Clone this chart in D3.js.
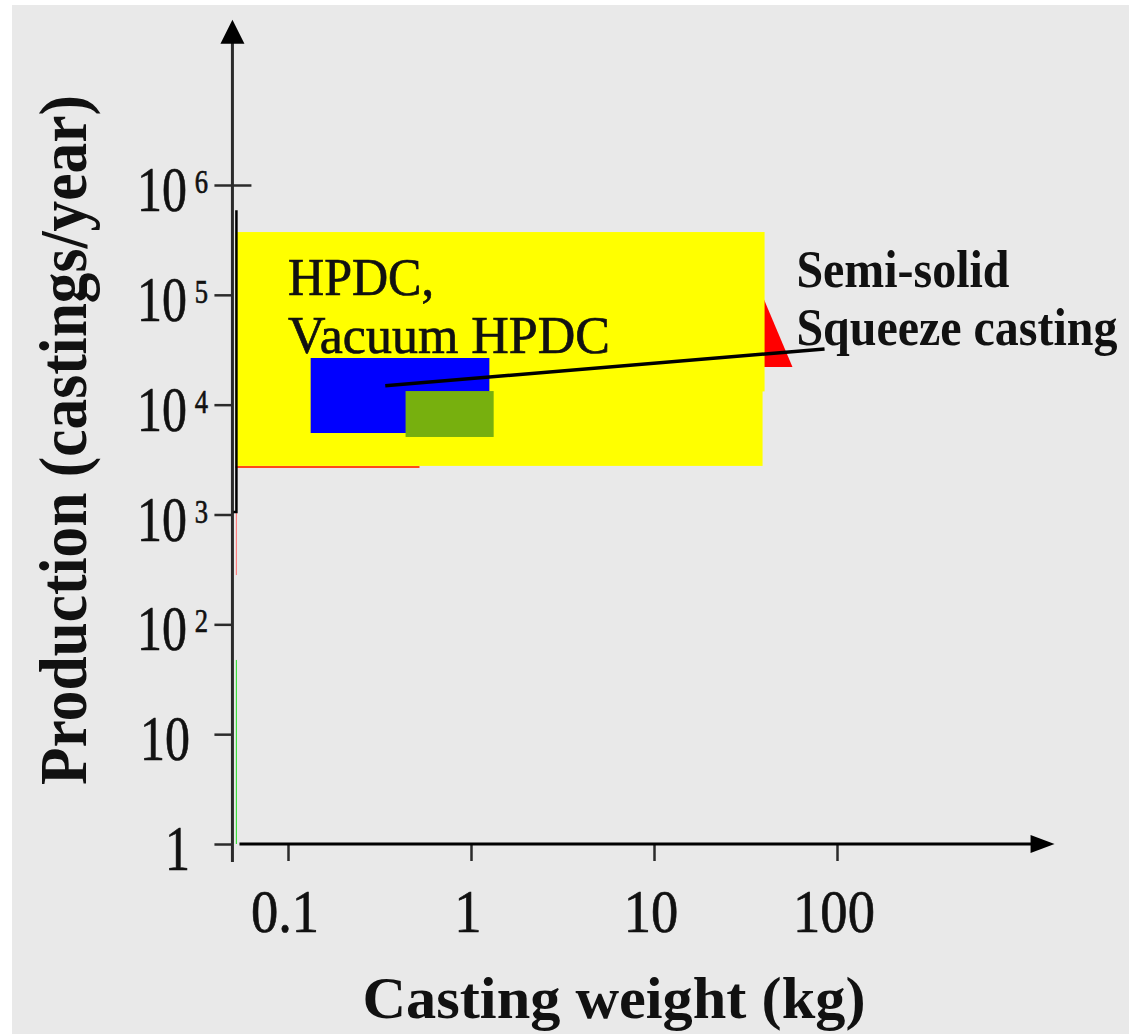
<!DOCTYPE html>
<html>
<head>
<meta charset="utf-8">
<script src="https://cdn.jsdelivr.net/npm/d3@7"></script>
<style>
  body { margin: 0; background: #ffffff; }
  svg { display: block; }
  text { font-family: "Liberation Serif", "DejaVu Serif", serif; fill: #111; }
  .heavy { stroke: #111; stroke-width: 0.7px; }
</style>
</head>
<body>
<div id="chart"></div>
<script>
// ---- data ----
const xTicks = [0.1, 1, 10, 100]
const xTickLabels = ['0.1', '1', '10', '100']
const yTicks = [1, 10, 1e2, 1e3, 1e4, 1e5, 1e6]
const yTickBase = ['1', '10', '10', '10', '10', '10', '10']
const yTickExp = ['', '', '2', '3', '4', '5', '6']

// process regions (casting weight kg x production castings/year)
const regionNames = ['HPDC (upper)', 'HPDC (lower)', 'Vacuum HPDC', 'Semi-solid']
const weightMin = [0.0516, 0.0516, 0.133, 0.439]
const weightMax = [40.2, 39.2, 1.26, 1.33]
const prodMin = [13200, 2770, 5520, 5080]
const prodMax = [373000, 13400, 26600, 13300]
const regionColors = ['#ffff00', '#ffff00', '#0000ff', '#77b00e']

// squeeze casting triangle (partly hidden behind HPDC)
const squeezeWeight = [35.4, 57.1, 35.4]
const squeezeProd = [145500, 22000, 22000]

// leader line from the label to the region
const leaderWeight = [0.34, 85.5]
const leaderProd = [14900, 32100]

// thin edge lines left over in the picture
const borderWeight = [0.0516, 0.0516, 0.0497]
const borderProd = [590000, 1054, 1054]
const redEdgeWeight = [0.0516, 0.523]
const redEdgeProd = [2709, 2709]
const redAxisProd = [1054, 281]
const greenAxisProd = [47.4, 1]

// axis extents
const xOrigin = 0.0497, xStart = 0.0543, xEnd = 1545
const yBottom = 0.686, yEnd = 3.2e7

const width = 1129, height = 1034

const svg = d3.select('#chart').append('svg')
    .attr('width', width)
    .attr('height', height)

svg.append('rect')
    .attr('x', 12).attr('y', 5)
    .attr('width', width - 12).attr('height', height - 5)
    .attr('fill', '#e9e9e9')

const x = d3.scaleLog().domain([0.1, 100]).range([288, 837])
const y = d3.scaleLog().domain([1, 1e6]).range([844, 185])

const axisColor = '#2b2b2b'

// ---- regions ----
const regions = svg.append('g').attr('class', 'regions')

regions.append('path')
    .attr('d', d3.line()(squeezeWeight.map((w, i) => [x(w), y(squeezeProd[i])])) + 'Z')
    .attr('fill', '#ff0000')

regions.selectAll('rect')
    .data(regionNames)
    .enter()
    .append('rect')
    .attr('x', (d, i) => x(weightMin[i]))
    .attr('y', (d, i) => y(prodMax[i]))
    .attr('width', (d, i) => x(weightMax[i]) - x(weightMin[i]))
    .attr('height', (d, i) => y(prodMin[i]) - y(prodMax[i]))
    .attr('fill', (d, i) => regionColors[i])

regions.append('line')
    .attr('x1', x(redEdgeWeight[0])).attr('x2', x(redEdgeWeight[1]))
    .attr('y1', y(redEdgeProd[0])).attr('y2', y(redEdgeProd[1]))
    .attr('stroke', '#ff4a1a').attr('stroke-width', 2)

// ---- axes ----
const xAxis = d3.axisBottom(x)
    .tickValues(xTicks)
    .tickSize(17)
    .tickFormat('')

svg.append('g')
    .attr('transform', `translate(0, ${y(1)})`)
    .call(xAxis)
    .call(g => g.select('.domain').remove())
    .call(g => g.selectAll('.tick line').attr('stroke', axisColor).attr('stroke-width', 2.5))

const yAxis = d3.axisLeft(y)
    .tickValues(yTicks)
    .tickSize(18)
    .tickFormat('')

svg.append('g')
    .attr('transform', `translate(${x(xOrigin)}, 0)`)
    .call(yAxis)
    .call(g => g.select('.domain').remove())
    .call(g => g.selectAll('.tick line')
        .attr('stroke', axisColor).attr('stroke-width', 2.5)
        .attr('x2', d => d === 1e6 ? 19 : -18)
        .attr('x1', d => d === 1e6 ? -18 : 0))

// axis lines with arrow heads
svg.append('line')
    .attr('x1', x(xOrigin)).attr('x2', x(xOrigin))
    .attr('y1', y(yBottom)).attr('y2', y(yEnd) + 20)
    .attr('stroke', axisColor).attr('stroke-width', 3)

svg.append('path')
    .attr('d', `M${x(xOrigin)},${y(yEnd)} L${x(xOrigin) - 12},${y(yEnd) + 24} L${x(xOrigin) + 12},${y(yEnd) + 24} Z`)
    .attr('fill', '#000')

svg.append('line')
    .attr('x1', x(xStart)).attr('x2', x(xEnd) - 20)
    .attr('y1', y(1)).attr('y2', y(1))
    .attr('stroke', '#000').attr('stroke-width', 3)

svg.append('path')
    .attr('d', `M${x(xEnd)},${y(1)} L${x(xEnd) - 24},${y(1) - 9} L${x(xEnd) - 24},${y(1) + 9} Z`)
    .attr('fill', '#000')

// thin coloured traces along the y axis and the black border
const edges = svg.append('g')
edges.append('line')
    .attr('x1', x(borderWeight[0]) + 1).attr('x2', x(borderWeight[0]) + 1)
    .attr('y1', y(redAxisProd[0])).attr('y2', y(redAxisProd[1]))
    .attr('stroke', '#ff8080').attr('stroke-width', 1.2)
edges.append('line')
    .attr('x1', x(borderWeight[0]) + 1).attr('x2', x(borderWeight[0]) + 1)
    .attr('y1', y(greenAxisProd[0])).attr('y2', y(greenAxisProd[1]))
    .attr('stroke', '#40e040').attr('stroke-width', 1.2)
edges.append('path')
    .attr('d', d3.line()(borderWeight.map((w, i) => [x(w) + 1, y(borderProd[i])])))
    .attr('fill', 'none').attr('stroke', '#000').attr('stroke-width', 2.5)

// leader line
svg.append('line')
    .attr('x1', x(leaderWeight[0])).attr('y1', y(leaderProd[0]))
    .attr('x2', x(leaderWeight[1])).attr('y2', y(leaderProd[1]))
    .attr('stroke', '#000').attr('stroke-width', 3.5)

// ---- tick labels ----
const xLabels = svg.append('g')
xLabels.selectAll('text')
    .data(xTicks)
    .enter()
    .append('text')
    .attr('class', 'heavy')
    .attr('transform', d => `translate(${x(d) - 3}, 932) scale(0.88, 1)`)
    .attr('text-anchor', 'middle')
    .style('font-size', '62px')
    .text((d, i) => xTickLabels[i])

const yLabels = svg.append('g')
const yl = yLabels.selectAll('text')
    .data(yTicks)
    .enter()
    .append('text')
    .attr('class', 'heavy')
    .attr('transform', (d, i) => `translate(${yTickExp[i] ? 208 : 190}, ${y(d) + 26}) scale(0.78, 1)`)
    .attr('text-anchor', 'end')
    .style('font-size', '64px')

yl.append('tspan').text((d, i) => yTickBase[i])
yl.append('tspan')
    .attr('dx', 10).attr('dy', -18)
    .style('font-size', '34px')
    .text((d, i) => yTickExp[i])

// ---- annotations ----
svg.append('text')
    .attr('class', 'heavy')
    .attr('x', x(0.1)).attr('y', y(1e5))
    .style('font-size', '53px')
    .attr('textLength', 146)
    .attr('lengthAdjust', 'spacingAndGlyphs')
    .text('HPDC,')
svg.append('text')
    .attr('class', 'heavy')
    .attr('x', x(0.1)).attr('y', y(29600))
    .style('font-size', '53px')
    .attr('textLength', 322)
    .attr('lengthAdjust', 'spacingAndGlyphs')
    .text('Vacuum HPDC')

svg.append('text')
    .attr('transform', `translate(${x(60)}, ${y(118000)}) scale(0.905, 1)`)
    .style('font-size', '53px').style('font-weight', 'bold')
    .text('Semi-solid')
svg.append('text')
    .attr('transform', `translate(${x(60)}, ${y(34900)}) scale(0.905, 1)`)
    .style('font-size', '53px').style('font-weight', 'bold')
    .text('Squeeze casting')

// ---- axis titles ----
svg.append('text')
    .attr('transform', 'translate(86, 440) rotate(-90)')
    .attr('text-anchor', 'middle')
    .style('font-size', '68px').style('font-weight', 'bold')
    .attr('textLength', 690)
    .attr('lengthAdjust', 'spacingAndGlyphs')
    .text('Production (castings/year)')

svg.append('text')
    .attr('x', 614).attr('y', 1018)
    .attr('text-anchor', 'middle')
    .style('font-size', '60px').style('font-weight', 'bold')
    .attr('textLength', 503)
    .attr('lengthAdjust', 'spacingAndGlyphs')
    .text('Casting weight (kg)')
</script>
</body>
</html>
